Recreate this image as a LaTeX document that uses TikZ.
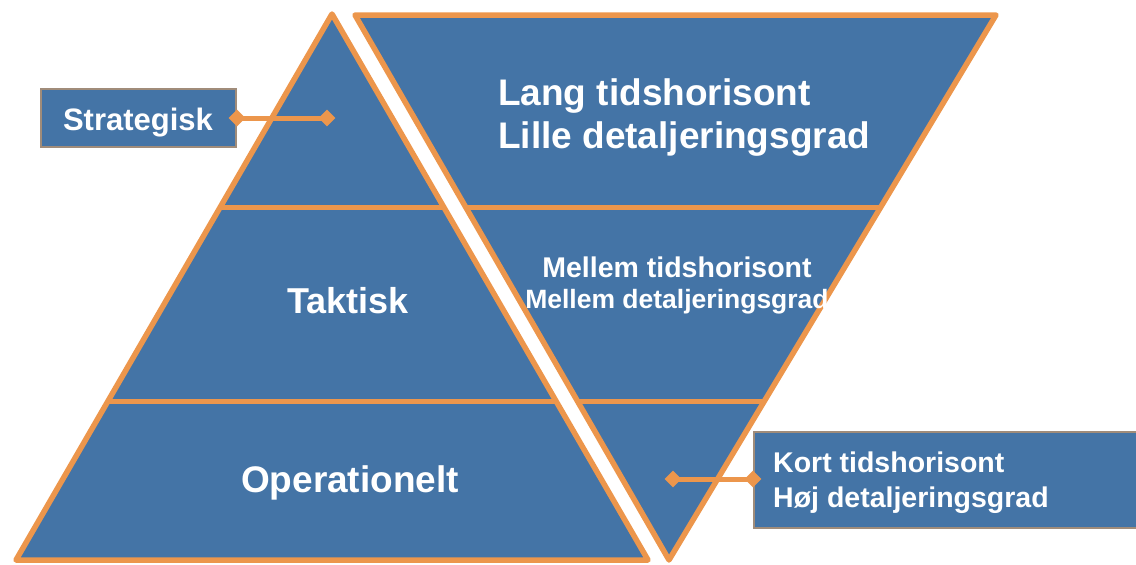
\documentclass[tikz,border=0pt]{standalone}
\usepackage{fontspec}
\setmainfont{Liberation Sans}
\usetikzlibrary{shapes.geometric,calc}
\definecolor{tblue}{RGB}{68,116,166}
\definecolor{torange}{RGB}{236,150,76}
\definecolor{tedge}{RGB}{160,140,122}
\begin{document}
\begin{tikzpicture}[x=1pt,y=-1pt,
  tri/.style={fill=tblue, draw=torange, line width=5.5pt, line join=round},
  sep/.style={draw=torange, line width=5pt},
  lbl/.style={text=white, font=\bfseries\fontsize{#1}{#1}\selectfont, inner sep=0pt},
  box/.style={fill=tblue, draw=tedge, line width=2pt, inner sep=0pt},
  dia/.style={diamond, fill=torange, inner sep=0pt, minimum width=17pt, minimum height=17pt},
  conn/.style={draw=torange, line width=5pt}]
\useasboundingbox (0,0) rectangle (1136,565);
% left pyramid
\coordinate (LA) at (332,14);
\coordinate (LL) at (16,560);
\coordinate (LR) at (648,560);
\draw[tri] (LA) -- (LR) -- (LL) -- cycle;
\draw[sep] ($(LA)!0.3553!(LL)$) -- ($(LA)!0.3553!(LR)$);
\draw[sep] ($(LA)!0.7106!(LL)$) -- ($(LA)!0.7106!(LR)$);
% inverted pyramid
\coordinate (RL) at (355,15);
\coordinate (RR) at (996,15);
\coordinate (RB) at (669,560);
\draw[tri] (RL) -- (RR) -- (RB) -- cycle;
\draw[sep] ($(RL)!0.354!(RB)$) -- ($(RR)!0.354!(RB)$);
\draw[sep] ($(RL)!0.710!(RB)$) -- ($(RR)!0.710!(RB)$);
% texts in pyramids
\node[lbl=36, anchor=base] (takt) at (348,313) {Taktisk};
\node[lbl=37, anchor=base] (oper) at (350,492) {Operationelt};
\node[lbl=37, anchor=base west] (lang) at (498,105) {Lang tidshorisont};
\node[lbl=37, anchor=base west] (lille) at (498,148) {Lille detaljeringsgrad};
\node[lbl=28.5, anchor=base] (mel1) at (677,277) {Mellem tidshorisont};
\node[lbl=26.5, anchor=base] (mel2) at (677,308) {Mellem detaljeringsgrad};
% Strategisk callout
\node[box, minimum width=195pt, minimum height=58pt] (sbox) at (138.5,118) {};
\node[lbl=31, anchor=base] (strat) at (138,130) {Strategisk};
\coordinate (sd) at (327,118);
\draw[conn] (sbox.east) -- (sd);
\node[dia] (sdl) at (sbox.east) {};
\node[dia] (sdr) at (sd) {};
% Kort callout
\node[box, minimum width=400pt, minimum height=96pt, anchor=north west] (kbox) at (753,431) {};
\node[lbl=28.5, anchor=base west] (kort1) at (773,472) {Kort tidshorisont};
\node[lbl=28.5, anchor=base west] (kort2) at (773,507) {Høj detaljeringsgrad};
\coordinate (kd) at (673,479);
\draw[conn] (kd) -- (kd -| kbox.west);
\node[dia] (kdl) at (kd) {};
\node[dia] (kdr) at (kd -| kbox.west) {};
\end{tikzpicture}
\end{document}
